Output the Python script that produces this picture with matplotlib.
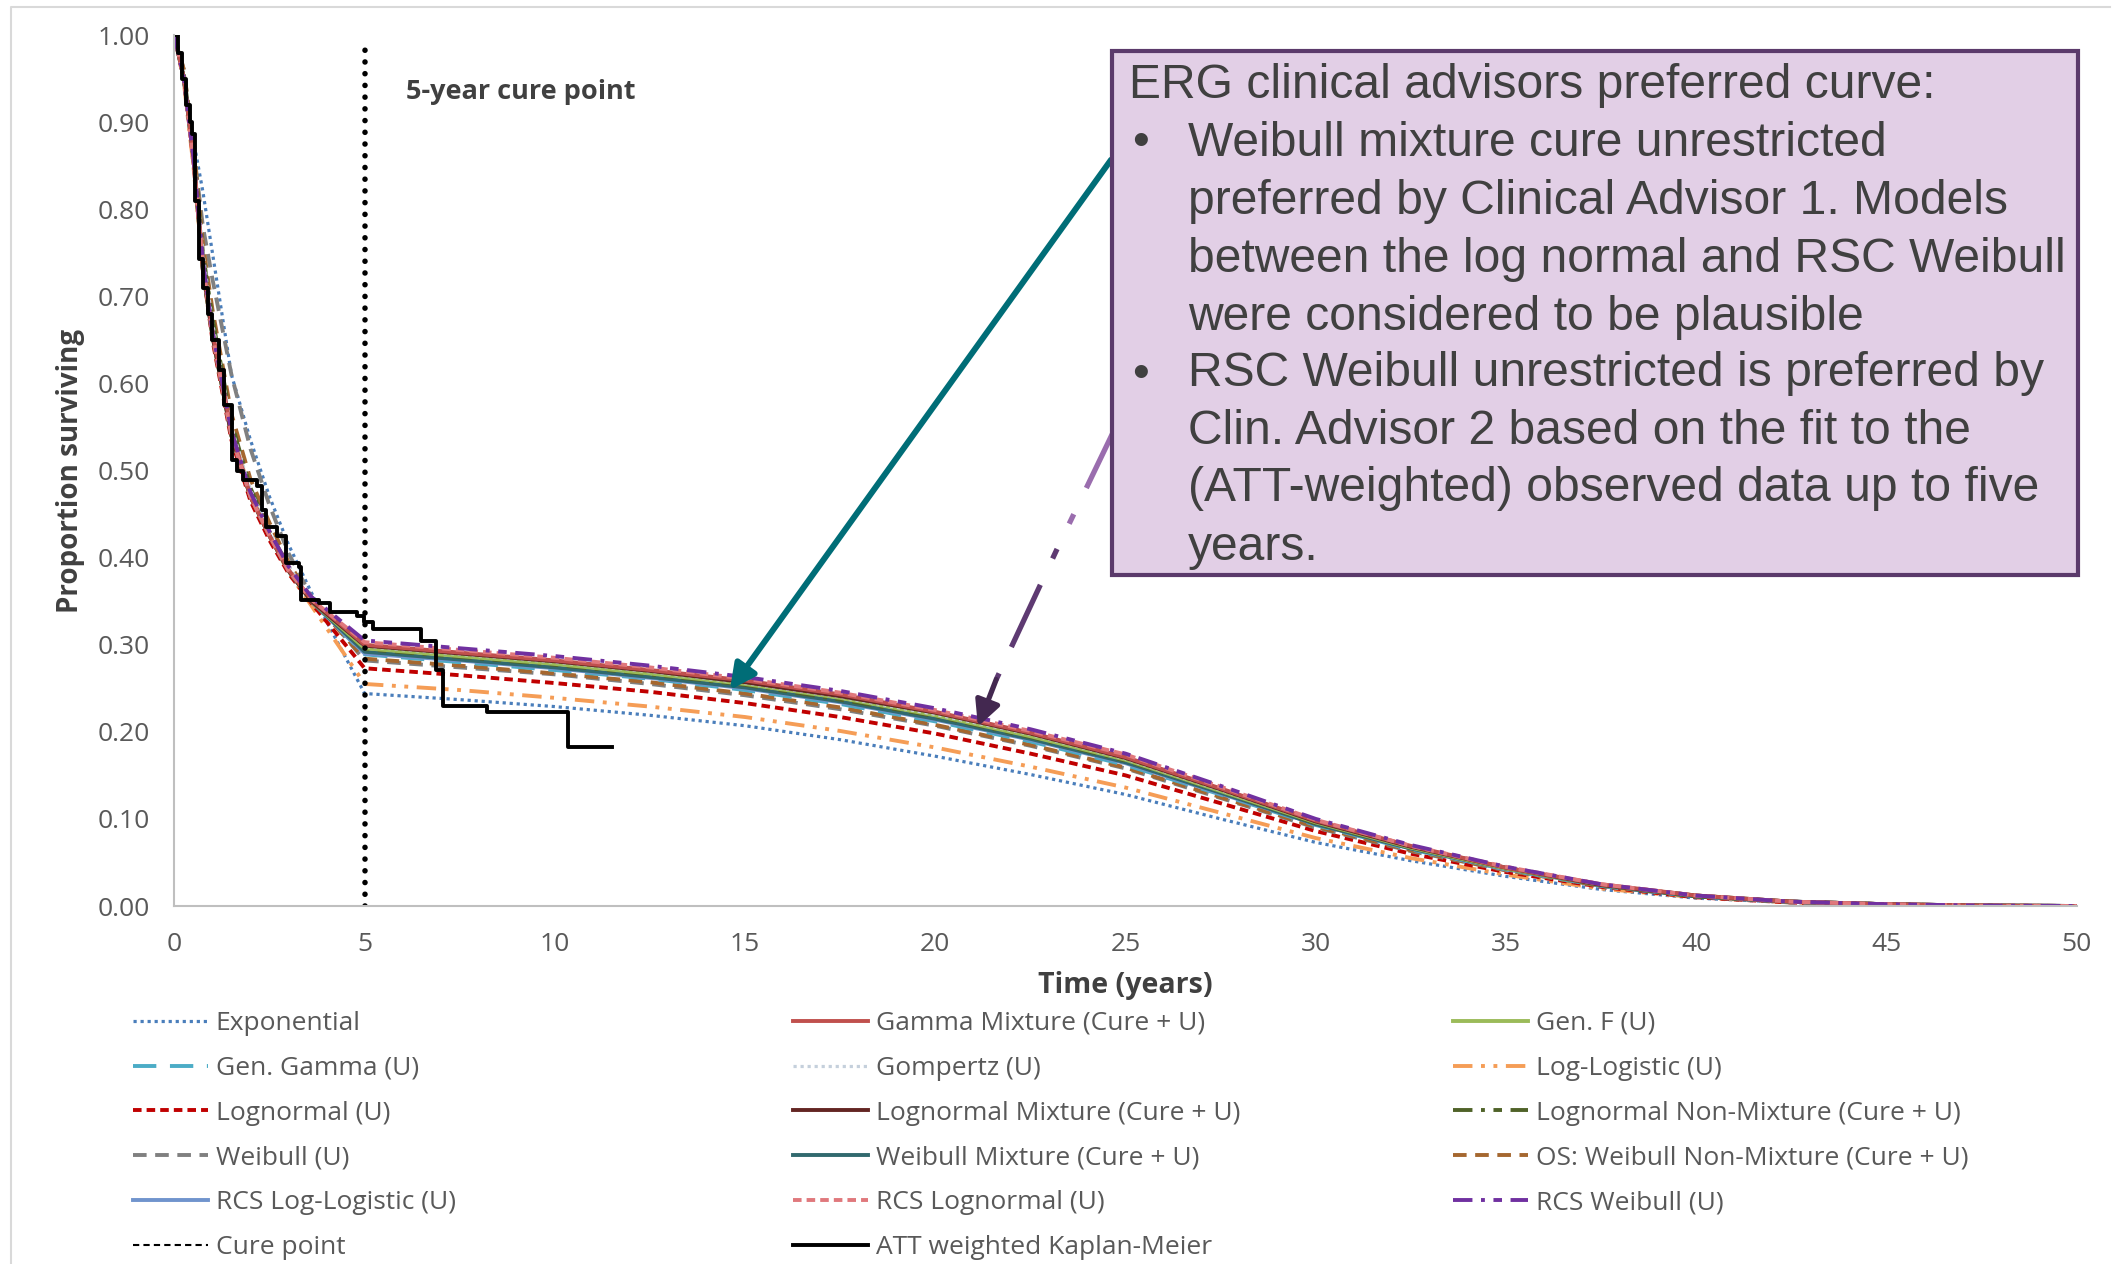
import matplotlib.pyplot as plt
import matplotlib.patches as patches
from matplotlib.lines import Line2D

t_pre = [0, 0.25, 0.5, 0.75, 1, 1.5, 2, 2.5, 3, 3.6]
t_post = [5, 7.5, 10, 12.5, 15, 17.5, 20, 22.5, 25, 27.5, 30, 32.5, 35, 37.5, 40, 42.5, 45, 47.5, 50]
time = t_pre + t_post

exponential = [1.0, 0.95, 0.88, 0.82, 0.75, 0.61, 0.535, 0.47, 0.415, 0.36,
               0.244, 0.237, 0.229, 0.219, 0.207, 0.191, 0.172, 0.151, 0.128, 0.100,
               0.073, 0.052, 0.034, 0.019, 0.009, 0.004, 0.001, 0.0003, 0.0]
gamma_mix = [1.0, 0.95, 0.86, 0.735, 0.66, 0.545, 0.47, 0.425, 0.386, 0.352,
             0.300, 0.291, 0.282, 0.271, 0.259, 0.243, 0.223, 0.199, 0.171, 0.135,
             0.098, 0.069, 0.044, 0.025, 0.012, 0.005, 0.002, 0.0005, 0.0]
gen_f = [1.0, 0.95, 0.86, 0.73, 0.655, 0.54, 0.47, 0.425, 0.385, 0.35,
         0.296, 0.287, 0.278, 0.267, 0.255, 0.239, 0.219, 0.195, 0.168, 0.132,
         0.096, 0.067, 0.043, 0.024, 0.012, 0.005, 0.002, 0.0005, 0.0]
gen_gamma = [1.0, 0.95, 0.86, 0.735, 0.66, 0.54, 0.47, 0.425, 0.385, 0.35,
             0.289, 0.280, 0.271, 0.261, 0.248, 0.232, 0.212, 0.189, 0.162, 0.128,
             0.093, 0.065, 0.042, 0.023, 0.011, 0.005, 0.002, 0.0005, 0.0]
gompertz = [1.0, 0.95, 0.865, 0.75, 0.67, 0.55, 0.478, 0.43, 0.39, 0.353,
            0.298, 0.289, 0.280, 0.269, 0.256, 0.240, 0.220, 0.197, 0.169, 0.133,
            0.097, 0.068, 0.044, 0.024, 0.012, 0.005, 0.002, 0.0005, 0.0]
log_logistic = [1.0, 0.945, 0.85, 0.73, 0.655, 0.545, 0.475, 0.425, 0.383, 0.345,
                0.255, 0.248, 0.239, 0.229, 0.217, 0.201, 0.182, 0.160, 0.136, 0.107,
                0.078, 0.055, 0.036, 0.020, 0.010, 0.004, 0.001, 0.0003, 0.0]
lognormal = [1.0, 0.95, 0.855, 0.73, 0.65, 0.535, 0.465, 0.42, 0.382, 0.348,
             0.273, 0.265, 0.256, 0.246, 0.233, 0.217, 0.198, 0.175, 0.150, 0.118,
             0.086, 0.060, 0.039, 0.022, 0.010, 0.004, 0.001, 0.0003, 0.0]
lognormal_mix = [1.0, 0.95, 0.86, 0.73, 0.655, 0.54, 0.47, 0.425, 0.385, 0.35,
                 0.299, 0.290, 0.281, 0.270, 0.257, 0.241, 0.222, 0.198, 0.170, 0.134,
                 0.097, 0.068, 0.044, 0.024, 0.012, 0.005, 0.002, 0.0005, 0.0]
lognormal_nm = [1.0, 0.955, 0.87, 0.75, 0.675, 0.555, 0.48, 0.43, 0.39, 0.352,
                0.295, 0.286, 0.277, 0.266, 0.254, 0.237, 0.218, 0.194, 0.167, 0.132,
                0.095, 0.067, 0.043, 0.024, 0.011, 0.005, 0.002, 0.0005, 0.0]
weibull = [1.0, 0.96, 0.87, 0.78, 0.72, 0.61, 0.525, 0.46, 0.405, 0.355,
           0.282, 0.274, 0.266, 0.255, 0.242, 0.226, 0.207, 0.184, 0.158, 0.124,
           0.090, 0.063, 0.041, 0.023, 0.011, 0.004, 0.001, 0.0004, 0.0]
weibull_mix = [1.0, 0.95, 0.86, 0.73, 0.655, 0.54, 0.47, 0.425, 0.385, 0.35,
               0.292, 0.283, 0.274, 0.263, 0.251, 0.235, 0.215, 0.192, 0.165, 0.130,
               0.094, 0.066, 0.043, 0.024, 0.011, 0.005, 0.002, 0.0005, 0.0]
os_weibull_nm = [1.0, 0.96, 0.875, 0.76, 0.685, 0.565, 0.49, 0.44, 0.395, 0.352,
                 0.284, 0.276, 0.267, 0.257, 0.244, 0.228, 0.208, 0.185, 0.159, 0.125,
                 0.091, 0.064, 0.041, 0.023, 0.011, 0.005, 0.002, 0.0004, 0.0]
rcs_loglogistic = [1.0, 0.95, 0.86, 0.74, 0.66, 0.545, 0.472, 0.426, 0.386, 0.35,
                   0.290, 0.282, 0.273, 0.262, 0.250, 0.234, 0.214, 0.191, 0.164, 0.129,
                   0.094, 0.066, 0.042, 0.024, 0.011, 0.005, 0.002, 0.0005, 0.0]
rcs_lognormal = [1.0, 0.95, 0.855, 0.735, 0.655, 0.54, 0.47, 0.425, 0.385, 0.352,
                 0.303, 0.294, 0.285, 0.274, 0.261, 0.245, 0.225, 0.201, 0.174, 0.137,
                 0.099, 0.069, 0.045, 0.025, 0.012, 0.005, 0.002, 0.0005, 0.0]
rcs_weibull = [1.0, 0.95, 0.86, 0.74, 0.66, 0.545, 0.475, 0.43, 0.39, 0.355,
               0.305, 0.296, 0.287, 0.276, 0.263, 0.247, 0.227, 0.203, 0.175, 0.138,
               0.100, 0.070, 0.045, 0.025, 0.012, 0.005, 0.002, 0.0005, 0.0]

# ATT weighted Kaplan-Meier (step function)
km_time = [0, 0.1, 0.2, 0.3, 0.4, 0.46, 0.55, 0.64, 0.75, 0.87, 1.0, 1.17, 1.3, 1.52, 1.65,
           1.81, 2.16, 2.3, 2.4, 2.69, 2.93, 3.28, 3.34, 3.8, 4.1, 4.8, 4.99, 5.21, 6.47,
           6.87, 7.07, 8.21, 10.35, 11.49]
km_surv = [1.0, 0.98, 0.95, 0.92, 0.90, 0.887, 0.81, 0.743, 0.71, 0.68, 0.65, 0.615, 0.575,
           0.512, 0.50, 0.489, 0.482, 0.455, 0.435, 0.425, 0.394, 0.389, 0.351, 0.348, 0.338,
           0.333, 0.326, 0.318, 0.304, 0.271, 0.230, 0.223, 0.183, 0.183]

cure_year = 5

box_lines = ["Weibull mixture cure unrestricted",
             "preferred by Clinical Advisor 1. Models",
             "between the log normal and RSC Weibull",
             "were considered to be plausible",
             "RSC Weibull unrestricted is preferred by",
             "Clin. Advisor 2 based on the fit to the",
             "(ATT-weighted) observed data up to five",
             "years."]

W, H = 2120, 1264
fig = plt.figure(figsize=(W / 100, H / 100), dpi=100)
# faint outer frame of the pasted chart
fig.lines.append(Line2D([11 / W, 11 / W, 2110 / W], [0, 1 - 7 / H, 1 - 7 / H], transform=fig.transFigure,
                        color='#D9D9D9', lw=1.5))

ax = fig.add_axes([174.4 / W, 1 - 906 / H, 1902.3 / W, 870.8 / H])

lw = 2.8
lines = {}
lines['exp'], = ax.plot(time, exponential, color='#4A7EBB', ls=(0, (1, 1.2)), lw=2.3, label='Exponential')
lines['ll'], = ax.plot(time, log_logistic, color='#F59D56', ls=(0, (5, 2.2, 1, 2.2, 1, 2.2)), lw=lw, label='Log-Logistic (U)')
lines['ln'], = ax.plot(time, lognormal, color='#C00000', ls=(0, (2.2, 1.3)), lw=lw, label='Lognormal (U)')
lines['wb'], = ax.plot(time, weibull, color='#808080', ls=(0, (3.5, 2.2)), lw=lw, label='Weibull (U)')
lines['osw'], = ax.plot(time, os_weibull_nm, color='#A5672F', ls=(0, (3.5, 2.2)), lw=lw, label='OS: Weibull Non-Mixture (Cure + U)')
lines['gg'], = ax.plot(time, gen_gamma, color='#4BACC6', ls=(0, (6, 3.5)), lw=lw, label='Gen. Gamma (U)')
lines['rll'], = ax.plot(time, rcs_loglogistic, color='#7094CD', lw=lw, label='RCS Log-Logistic (U)')
lines['wm'], = ax.plot(time, weibull_mix, color='#31696E', lw=lw, label='Weibull Mixture (Cure + U)')
lines['lnnm'], = ax.plot(time, lognormal_nm, color='#4F6228', ls=(0, (5, 2.2, 1, 2.2, 2.2, 2.2)), lw=lw, label='Lognormal Non-Mixture (Cure + U)')
lines['gf'], = ax.plot(time, gen_f, color='#9BBB59', lw=lw, label='Gen. F (U)')
lines['gomp'], = ax.plot(time, gompertz, color='#C5D0DC', ls=(0, (1, 1.2)), lw=2.3, label='Gompertz (U)')
lines['lnm'], = ax.plot(time, lognormal_mix, color='#632523', lw=lw, label='Lognormal Mixture (Cure + U)')
lines['gm'], = ax.plot(time, gamma_mix, color='#C0504D', lw=lw, label='Gamma Mixture (Cure + U)')
lines['rln'], = ax.plot(time, rcs_lognormal, color='#E0787C', ls=(0, (2.2, 1.3)), lw=lw, label='RCS Lognormal (U)')
lines['rwb'], = ax.plot(time, rcs_weibull, color='#7030A0', ls=(0, (5, 2.2, 1, 2.2, 2.2, 2.2)), lw=lw, label='RCS Weibull (U)')
lines['km'], = ax.plot(km_time, km_surv, color='black', lw=2.8, drawstyle='steps-post', label='ATT weighted Kaplan-Meier')

ax.axvline(cure_year, ymax=0.995, color='black', ls=(0, (0.01, 2.1)), lw=4.0, dash_capstyle='round')
cure_handle = Line2D([], [], color='black', ls=(0, (3, 2)), lw=1.5, label='Cure point')

ax.text(6.1, 0.935, '5-year cure point', fontsize=19.5, fontweight='bold', color='#404040',
        family='Open Sans', va='center', ha='left')

ax.set_xlim(0, 50)
ax.set_ylim(0, 1)
ax.set_xticks(range(0, 51, 5))
ax.set_yticks([i / 10 for i in range(11)])
ax.set_yticklabels(['%.2f' % (i / 10) for i in range(11)])
for s in ['top', 'right']:
    ax.spines[s].set_visible(False)
for s in ['left', 'bottom']:
    ax.spines[s].set_color('#BFBFBF')
    ax.spines[s].set_linewidth(1.5)
ax.tick_params(length=0, labelsize=19, colors='#595959')
ax.tick_params(axis='y', pad=18)
ax.tick_params(axis='x', pad=19)
for lab in ax.get_xticklabels() + ax.get_yticklabels():
    lab.set_family('Open Sans')
ax.set_xlabel('Time (years)', fontsize=20.5, fontweight='bold', color='#404040', family='Open Sans', labelpad=10)
ax.set_ylabel('Proportion surviving', fontsize=20, fontweight='bold', color='#404040', family='Open Sans', labelpad=9)

# legend: three columns placed like the original
cols = [['exp', 'gg', 'ln', 'wb', 'rll', 'cure'],
        ['gm', 'gomp', 'lnm', 'wm', 'rln', 'km'],
        ['gf', 'll', 'lnnm', 'osw', 'rwb']]
col_x = [133, 793, 1453]
for keys, x in zip(cols, col_x):
    hs = [cure_handle if k == 'cure' else lines[k] for k in keys]
    fig.legend(handles=hs, loc='upper left', bbox_to_anchor=(x / W, 1 - 1011 / H),
               frameon=False, borderpad=0, borderaxespad=0, handlelength=2.85, handletextpad=0.28,
               labelspacing=0.75, prop={'family': 'Open Sans', 'size': 19}, labelcolor='#595959')

# annotation box
fig.patches.append(patches.Rectangle((1112 / W, 1 - 575 / H), 966 / W, 524 / H, transform=fig.transFigure,
                                     facecolor='#E2CFE6', edgecolor='#5B3A6B', lw=3, zorder=5))
txt = dict(fontsize=34.6, family='Liberation Sans', color='#404040', va='center', zorder=6)
fig.text(1129 / W, 1 - 86 / H, 'ERG clinical advisors preferred curve:', **txt)
line_y = [143, 201, 259, 317, 374, 432, 489, 547]
for i, (s, y) in enumerate(zip(box_lines, line_y)):
    if i in (0, 4):
        fig.text(1132 / W, 1 - y / H, '\u2022', **txt)
    fig.text(1188 / W, 1 - y / H, s, **txt)

# arrows pointing to the preferred curves
ax.annotate('', xy=(14.6, 0.248), xytext=(24.62, 0.857), annotation_clip=False, zorder=4,
            arrowprops=dict(arrowstyle='-|>', color='#006D77', lw=4.3, mutation_scale=38, shrinkA=0, shrinkB=0))
ax.plot([24.75, 23.2], [0.551, 0.41], color='#9A6DAE', lw=3.8, ls=(0, (13, 5.5, 2, 5.5)), clip_on=False, zorder=4)
ax.plot([23.2, 21.6], [0.41, 0.26], color='#5E3A72', lw=3.8, ls=(0, (2, 5.5, 13, 5.5)), clip_on=False, zorder=4)
ax.annotate('', xy=(21.12, 0.206), xytext=(21.6, 0.26), annotation_clip=False, zorder=4,
            arrowprops=dict(arrowstyle='-|>', color='#432850', lw=3.8, mutation_scale=38, shrinkA=0, shrinkB=0))

plt.savefig('out.png', dpi=100)
